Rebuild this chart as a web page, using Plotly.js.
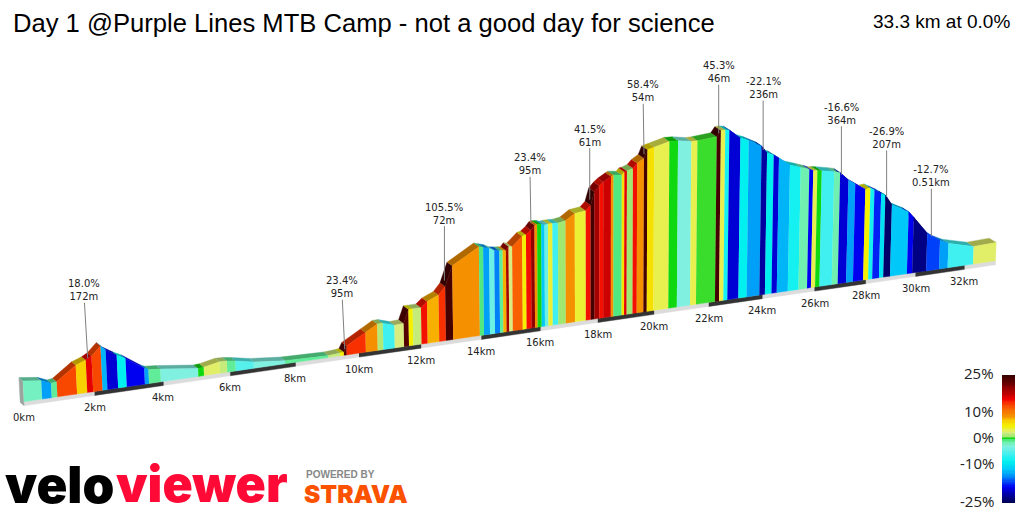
<!DOCTYPE html>
<html>
<head>
<meta charset="utf-8">
<script src="https://cdn.plot.ly/plotly-3.0.1.min.js"></script>
<style>html,body{margin:0;padding:0;background:#fff}</style>
</head>
<body>
<div id="chart" style="width:1024px;height:512px"></div>
<script>
// distance (km) and elevation (m) at each change of gradient
const segKm = [0,.51,.78,.94,1.5,1.79,1.96,2.23,2.37,2.68,2.93,3.46,3.58,3.93,5.04,5.21,5.69,5.91,6.17,6.72,7.68,9.03,9.4,9.52,9.61,10.22,10.6,10.78,11.15,11.45,11.61,11.75,12.02,12.22,12.6,12.82,13.06,13.95,14.09,14.29,14.46,14.63,14.74,14.85,14.94,15.06,15.4,15.53,15.7,15.82,15.91,16.05,16.16,16.28,16.43,16.62,16.88,17.2,17.58,17.75,17.88,18.05,18.19,18.46,18.55,18.84,18.93,19.02,19.23,19.38,19.62,19.74,19.98,20.52,20.83,21.31,21.53,22.23,22.38,22.54,22.69,23.1,23.41,23.89,24.1,24.35,24.55,24.97,25.38,25.71,25.86,26.02,26.19,26.67,26.9,27.23,27.5,27.9,28.1,28.26,28.53,28.7,28.97,29.65,29.86,30.43,30.96,31.31,32.36,33.3];
const segElev = [52,46,36,38,72,81,89,111,99,82,71,40,35,32,20,21,29,28,25,16,8,5,7,8,22,49,66,66,57,58,91,91,91,104,116,135,184,222,219,214,207,205,204,203,212,210,233,235,245,256,257,256,253,254,254,253,256,271,274,286,318,331,339,350,353,350,357,358,363,374,384,404,408,417,416,409,409,412,426,426,424,400,391,373,353,346,336,315,305,297,292,291,289,282,278,256,244,227,228,222,212,205,178,155,139,94,72,61,44,46];
// gradient % of each stretch
const segGrade = [-2,-14,-1,13,7,16,13,-13,-20,-9,-19,-14,-1,-3,0,3,2,-1,-5,-3,-1,2,5,23,14,9,1.5,-6,2.5,23,5,2,15,8,14,24,9,-.5,-14,-4,-15,-1,8,19,2.5,12,5,15,20,9,0,-12,-4,4,-6,1,9,4,15,24,19,15,17,9,-.5,6,16,1,15,9,24,6,3.5,0,-3,3.5,.3,24,3.5,-8,-20,-9,-14,-22,-9,-20,-13,-8,-1.5,-19,3.5,0,-6,-1.5,-20,-14,-19,5,-8,-18,-10,-24,-12,-19,-23,-17,-14,-6,3];

const tickKm = [0,2,4,6,8,10,12,14,16,18,20,22,24,26,28,30,32];
const bandStart = [2,6,10,14,18,22,26,30];

// steepest stretches called out above the profile
const noteKm = [1.85,9.55,12.8,15.7,17.72,19.62,22.3,23.95,26.95,28.75,30.6];
const noteElev = [85,15,150,262,300,394,420,362,272,200,85];
const noteGrade = ['18.0%','23.4%','105.5%','23.4%','41.5%','58.4%','45.3%','-22.1%','-16.6%','-26.9%','-12.7%'];
const noteLength = ['172m','95m','72m','95m','61m','54m','46m','236m','364m','207m','0.51km'];
const noteRise = [68,62,67,59,64,63,61,62,61,59,60];
const noteShift = [-4,-3,0,-1,0,-1,0,0,0,0,0];

const legendTicks = [25,10,0,-10,-25];
const gradeStops = [[-25,'#000050'],[-22,'#0000a0'],[-19,'#0000f0'],[-17,'#0040f8'],[-14,'#00a0f8'],[-12,'#00c8f8'],[-9,'#00f0f0'],[-6,'#40f0f0'],[-3,'#80f0e0'],[-1.5,'#70f0b0'],[-.5,'#50e880'],[0,'#10d810'],[1,'#a0e870'],[2.5,'#d8ec80'],[3.5,'#e8f050'],[5,'#f4f000'],[7,'#f8d000'],[9,'#f59000'],[12,'#f86000'],[14,'#f83000'],[15.5,'#f00000'],[17.5,'#c00000'],[20,'#900000'],[22,'#600000'],[25,'#380000']];

function hexRgb(h) {
    return [1,3,5].map(i => parseInt(h.substr(i,2),16));
}

function gradeRgb(g) {
    for (let i = 1; i < gradeStops.length; i++) {
        if (g <= gradeStops[i][0]) {
            const a = gradeStops[i-1], b = gradeStops[i];
            const t = (g - a[0]) / (b[0] - a[0]);
            const ca = hexRgb(a[1]), cb = hexRgb(b[1]);
            return ca.map((v,k) => Math.round(v + (cb[k]-v)*t));
        }
    }
    return hexRgb(gradeStops[gradeStops.length-1][1]);
}

// the view is a 3d perspective, so km and metres go through a projection first
function project(km, elev, back) {
    const u = 35.78*km/(1+0.0068*km);
    const h = elev*0.4;
    let x = 24 + u + h*(24+u-600)*9.5e-5;
    let y = 401.7 - 0.145*u - h;
    if (back) {
        x -= 4 + 3*km/33.3;
        y -= 3.3 + km/33.3;
    }
    return [x, y];
}

function poly(points, color) {
    return {
        x: points.map(p => p[0]), y: points.map(p => p[1]),
        type: 'scatter', mode: 'lines', fill: 'toself', fillcolor: color,
        line: {color: color, width: 0.4}, hoverinfo: 'skip', showlegend: false
    };
}

const rgb = c => 'rgb(' + c.join(',') + ')';
const traces = [];

// ground strip with the km bands
const stripLow = p => [p[0], p[1]+4];
const endKm = segKm[segKm.length-1];
traces.push(poly([project(0,0), project(endKm,0), stripLow(project(endKm,0)), stripLow(project(0,0))], '#dcdcdc'));
bandStart.forEach(k => {
    traces.push(poly([project(k,0), project(k+2,0), stripLow(project(k+2,0)), stripLow(project(k,0))], '#333333'));
});

// left end of the ribbon
traces.push(poly([project(0,segElev[0]), project(0,0), stripLow(project(0,0)), project(0,-10,true), project(0,segElev[0],true)], '#9aa5a0'));

// top of the ribbon, darker, behind the front face
segGrade.forEach((g,i) => {
    const c = gradeRgb(g).map(v => Math.round(v*0.72));
    traces.push(poly([project(segKm[i],segElev[i]), project(segKm[i+1],segElev[i+1]), project(segKm[i+1],segElev[i+1],true), project(segKm[i],segElev[i],true)], rgb(c)));
});

// front face
segGrade.forEach((g,i) => {
    traces.push(poly([project(segKm[i],0), project(segKm[i+1],0), project(segKm[i+1],segElev[i+1]), project(segKm[i],segElev[i])], rgb(gradeRgb(g))));
});

// legend
const legendZ = [], legendY = [];
for (let g = -25; g <= 25; g += 0.5) { legendY.push(g); legendZ.push([g]); }
traces.push({
    type: 'heatmap', x: [0], y: legendY, z: legendZ, xaxis: 'x2', yaxis: 'y2',
    zmin: -25, zmax: 25, showscale: false, hoverinfo: 'skip',
    colorscale: gradeStops.map(s => [(s[0]+25)/50, s[1]])
});

const annotations = [];
tickKm.forEach(k => {
    const p = project(k,0);
    annotations.push({x: p[0], y: p[1], yshift: -16, text: k + 'km', showarrow: false,
        font: {family: 'DejaVu Sans', size: 10, color: '#222'}});
});
noteKm.forEach((k,i) => {
    const p = project(k,noteElev[i]);
    annotations.push({x: p[0], y: p[1], ax: noteShift[i], ay: -noteRise[i], axref: 'pixel', ayref: 'pixel',
        text: noteGrade[i] + '<br>' + noteLength[i], showarrow: true, arrowhead: 0, arrowwidth: 1,
        arrowcolor: '#808080', standoff: 0, borderpad: 0,
        font: {family: 'DejaVu Sans', size: 10, color: '#222'}});
});
legendTicks.forEach(t => {
    annotations.push({xref: 'paper', yref: 'y2', x: 996/1024, y: t, yshift: 2, xanchor: 'right', yanchor: 'middle',
        text: t + '%', showarrow: false, font: {family: 'Open Sans', size: 15, color: '#222'}});
});
annotations.push({xref: 'paper', yref: 'paper', x: 1012/1024, y: 1-21/512, xanchor: 'right', yanchor: 'middle',
    text: '33.3 km at 0.0%', showarrow: false, font: {family: 'Liberation Sans', size: 19, color: '#000'}});

// logos
annotations.push({xref: 'paper', yref: 'paper', x: 3/1024, y: 1-484/512, xanchor: 'left', yanchor: 'middle',
    text: 'velo', showarrow: false, font: {family: 'Inter', size: 51, weight: 900, color: '#000'}});
annotations.push({xref: 'paper', yref: 'paper', x: 114/1024, y: 1-484/512, xanchor: 'left', yanchor: 'middle',
    text: 'viewer', showarrow: false, font: {family: 'Inter', size: 50, weight: 900, color: '#ff0a37'}});
annotations.push({xref: 'paper', yref: 'paper', x: 304/1024, y: 1-474/512, xanchor: 'left', yanchor: 'middle',
    text: 'POWERED BY', showarrow: false, font: {family: 'Liberation Sans', size: 10, weight: 700, color: '#888'}});
annotations.push({xref: 'paper', yref: 'paper', x: 302/1024, y: 1-494/512, xanchor: 'left', yanchor: 'middle',
    text: 'STRAVA', showarrow: false, font: {family: 'Inter', size: 24.5, weight: 900, color: '#fc5200'}});

const layout = {
    width: 1024, height: 512,
    margin: {l: 0, r: 0, t: 0, b: 0},
    paper_bgcolor: '#fff', plot_bgcolor: '#fff',
    showlegend: false,
    title: {text: 'Day 1 @Purple Lines MTB Camp - not a good day for science', x: 13/1024, xref: 'paper', xanchor: 'left',
        y: 1-23/512, yanchor: 'middle', font: {family: 'Liberation Sans', size: 25.6, color: '#000'}},
    xaxis: {range: [0,1024], visible: false, fixedrange: true},
    yaxis: {range: [512,0], visible: false, fixedrange: true},
    xaxis2: {domain: [1002/1024,1015/1024], anchor: 'y2', visible: false},
    yaxis2: {domain: [9/512,137/512], anchor: 'x2', range: [-25,25], visible: false},
    annotations: annotations
};

Plotly.newPlot('chart', traces, layout, {displayModeBar: false, staticPlot: true});
</script>
</body>
</html>
